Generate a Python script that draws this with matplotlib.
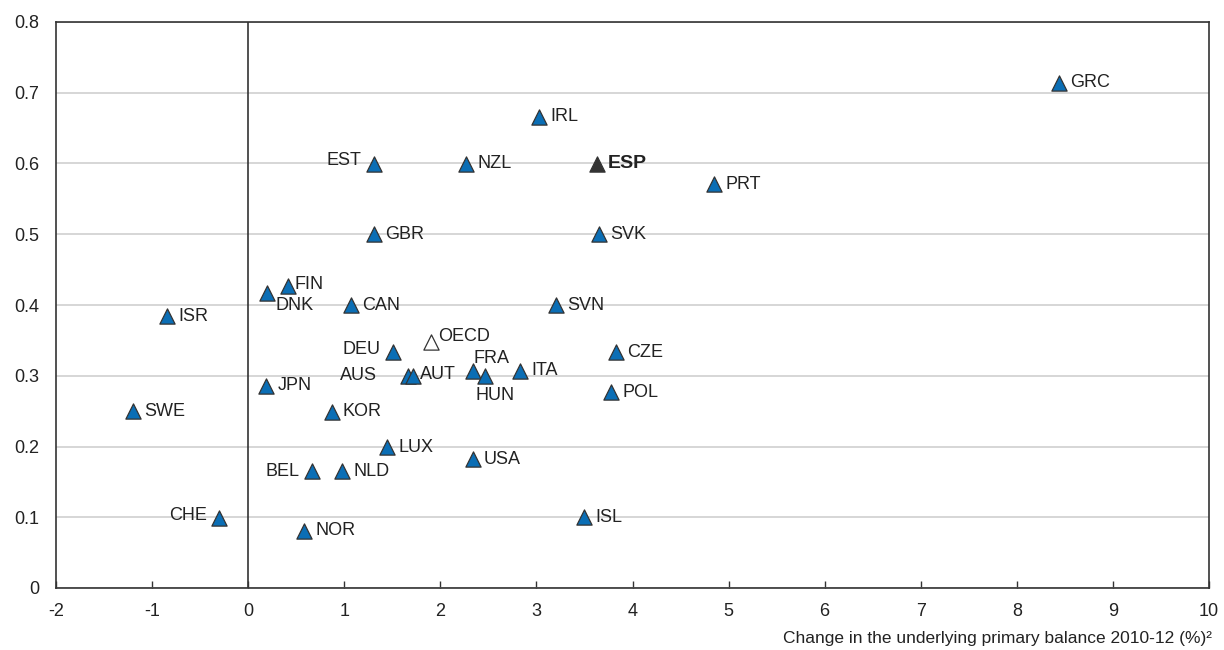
import numpy as np
import matplotlib.pyplot as plt

# =========================
# DATA
# =========================
countries = ["GRC", "IRL", "EST", "NZL", "ESP", "PRT", "GBR", "SVK", "FIN", "DNK",
             "CAN", "SVN", "ISR", "OECD", "DEU", "CZE", "AUS", "AUT", "FRA", "HUN",
             "ITA", "POL", "JPN", "SWE", "KOR", "LUX", "USA", "BEL", "NLD", "CHE",
             "NOR", "ISL"]
x_vals = [8.44, 3.03, 1.31, 2.27, 3.63, 4.85, 1.31, 3.65, 0.41, 0.20,
          1.07, 3.20, -0.84, 1.90, 1.51, 3.83, 1.66, 1.72, 2.34, 2.47,
          2.83, 3.78, 0.19, -1.20, 0.87, 1.45, 2.34, 0.66, 0.98, -0.30,
          0.58, 3.50]
y_vals = [0.714, 0.666, 0.600, 0.600, 0.600, 0.571, 0.500, 0.500, 0.427, 0.417,
          0.400, 0.400, 0.384, 0.348, 0.333, 0.333, 0.300, 0.300, 0.307, 0.299,
          0.307, 0.277, 0.286, 0.250, 0.249, 0.199, 0.182, 0.165, 0.165, 0.099,
          0.081, 0.100]

# label placement: (dx, dy) in points, ha
offsets = {
    "EST": (-9, 2, "right"), "DEU": (-9, 2, "right"), "AUS": (-22, 0, "right"),
    "BEL": (-9, 0, "right"), "CHE": (-9, 2, "right"), "DNK": (6, -9, "left"),
    "HUN": (-7, -14, "left"), "FRA": (0, 9, "left"), "OECD": (5, 4, "left"),
    "FIN": (5, 1, "left"), "AUT": (5, 1, "left"),
}

BLUE = "#0B6EB5"
EDGE = "#333333"
TXT = "#222222"

plt.rcParams["font.family"] = ["Liberation Sans Narrow", "Liberation Sans", "DejaVu Sans"]

fig = plt.figure(figsize=(12.24, 6.5), dpi=100)
ax = fig.add_axes([56 / 1224, 1 - 588 / 650, 1153 / 1224, 566 / 650])

ax.set_xlim(-2, 10)
ax.set_ylim(0, 0.8)
ax.set_xticks(np.arange(-2, 11, 1))
ax.set_yticks(np.arange(0, 0.81, 0.1))
ax.set_xticklabels([str(v) for v in range(-2, 11)])
ax.set_yticklabels(["0"] + [f"{v:.1f}" for v in np.arange(0.1, 0.81, 0.1)])
ax.tick_params(axis="x", direction="in", length=5, width=1, color=EDGE,
               labelsize=13, labelcolor=TXT, pad=11)
ax.tick_params(axis="y", length=0, labelsize=13, labelcolor=TXT, pad=12)
ax.grid(True, axis="y", color="#d0d0d0", linewidth=1.2)
ax.set_axisbelow(True)
for s in ax.spines.values():
    s.set_color(EDGE)
    s.set_linewidth(1.2)
ax.axvline(0, color=EDGE, linewidth=1.2, zorder=1)

for c, xv, yv in zip(countries, x_vals, y_vals):
    if c == "ESP":
        fc, ec = EDGE, EDGE
    elif c == "OECD":
        fc, ec = "white", EDGE
    else:
        fc, ec = BLUE, EDGE
    ax.scatter(xv, yv, marker="^", s=120, facecolor=fc, edgecolor=ec,
               linewidth=0.9, zorder=3)
    dx, dy, ha = offsets.get(c, (8, 0, "left"))
    ax.annotate(c, (xv, yv), xytext=(dx, dy), textcoords="offset points",
                ha=ha, va="center", fontsize=14 if c == "ESP" else 13, color=TXT,
                fontweight="bold" if c == "ESP" else "normal", zorder=4)

fig.text(1212 / 1224, 1 - 639 / 650, "Change in the underlying primary balance 2010-12 (%)²",
         ha="right", va="center", fontsize=12.5, color=TXT)

fig.savefig("out.png", dpi=100)
